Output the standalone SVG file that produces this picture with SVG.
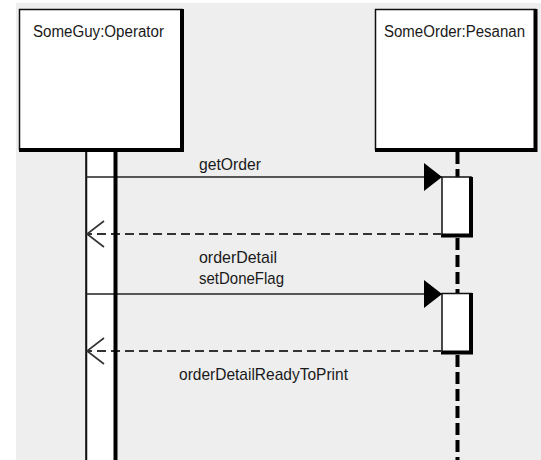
<svg xmlns="http://www.w3.org/2000/svg" width="541" height="460" viewBox="0 0 541 460">
  <style>
    text { font-family: "Liberation Sans", "DejaVu Sans", sans-serif; font-size: 17px; fill: #1a1a1a; }
    .label { font-size: 16px; }
    .box { fill: #ffffff; stroke: #111111; stroke-width: 1.5; }
    .thick { stroke: #000000; stroke-width: 4; fill: none; }
    .thin { stroke: #111111; stroke-width: 1.5; fill: none; }
    .msg { stroke: #222222; stroke-width: 1.6; fill: none; }
    .ret { stroke: #333333; stroke-width: 2; fill: none; stroke-dasharray: 9 5; }
    .life { stroke: #000000; stroke-width: 4; fill: none; stroke-dasharray: 12 5; }
  </style>
  <defs>
    <marker id="filled" markerWidth="18" markerHeight="28" refX="18" refY="14" orient="auto" markerUnits="userSpaceOnUse">
      <path d="M0,0 L18,14 L0,28 Z" fill="#000000"/>
    </marker>
    <marker id="open" markerWidth="20" markerHeight="30" refX="19" refY="14" orient="auto" markerUnits="userSpaceOnUse">
      <path d="M2,1 L19,14 L2,27" fill="none" stroke="#333333" stroke-width="1.6"/>
    </marker>
  </defs>

  <rect x="16" y="3" width="525" height="457" fill="#eeeeee"/>

  <g id="lifeline-operator">
    <rect x="86" y="150" width="29" height="312" class="box" stroke="none"/>
    <line x1="86.5" y1="150" x2="86.5" y2="460" class="thin"/>
  </g>

  <g id="lifeline-pesanan">
    <line x1="457.5" y1="152" x2="457.5" y2="177" class="life" stroke-dasharray="6 5"/>
    <line x1="457.5" y1="238" x2="457.5" y2="293" class="life"/>
    <line x1="457.5" y1="355" x2="457.5" y2="460" class="life"/>
  </g>

  <g id="node-operator">
    <rect x="19.5" y="9.5" width="162.5" height="140" class="box"/>
    <path d="M182,9 L182,150 L19,150" class="thick"/>
    <text class="label" x="33" y="37" textLength="131" lengthAdjust="spacingAndGlyphs">SomeGuy:Operator</text>
  </g>

  <g id="node-pesanan">
    <rect x="375.5" y="9.5" width="160" height="140" class="box"/>
    <path d="M535.5,9 L535.5,150 L375,150" class="thick"/>
    <text class="label" x="384" y="37" textLength="141" lengthAdjust="spacingAndGlyphs">SomeOrder:Pesanan</text>
  </g>

  <g id="activation-1">
    <rect x="442" y="177" width="29" height="58" class="box"/>
    <path d="M471,177 L471,235.5 L441,235.5" class="thick"/>
  </g>

  <g id="activation-2">
    <rect x="442" y="293.5" width="29" height="59" class="box"/>
    <path d="M471,293 L471,352.5 L441,352.5" class="thick"/>
  </g>

  <g id="connectors">
    <line x1="86" y1="177" x2="442" y2="177" class="msg" marker-end="url(#filled)"/>
    <line x1="442" y1="234" x2="87" y2="234" class="ret" marker-end="url(#open)"/>
    <line x1="86" y1="294" x2="442" y2="294" class="msg" marker-end="url(#filled)"/>
    <line x1="442" y1="351" x2="87" y2="351" class="ret" marker-end="url(#open)"/>
    <text x="199" y="170" textLength="62" lengthAdjust="spacingAndGlyphs">getOrder</text>
    <text x="199" y="263" textLength="78" lengthAdjust="spacingAndGlyphs">orderDetail</text>
    <text x="199" y="284" textLength="85" lengthAdjust="spacingAndGlyphs">setDoneFlag</text>
    <text x="179" y="380" textLength="169" lengthAdjust="spacingAndGlyphs">orderDetailReadyToPrint</text>
  </g>

  <line x1="115.5" y1="150" x2="115.5" y2="460" class="thick"/>
</svg>
